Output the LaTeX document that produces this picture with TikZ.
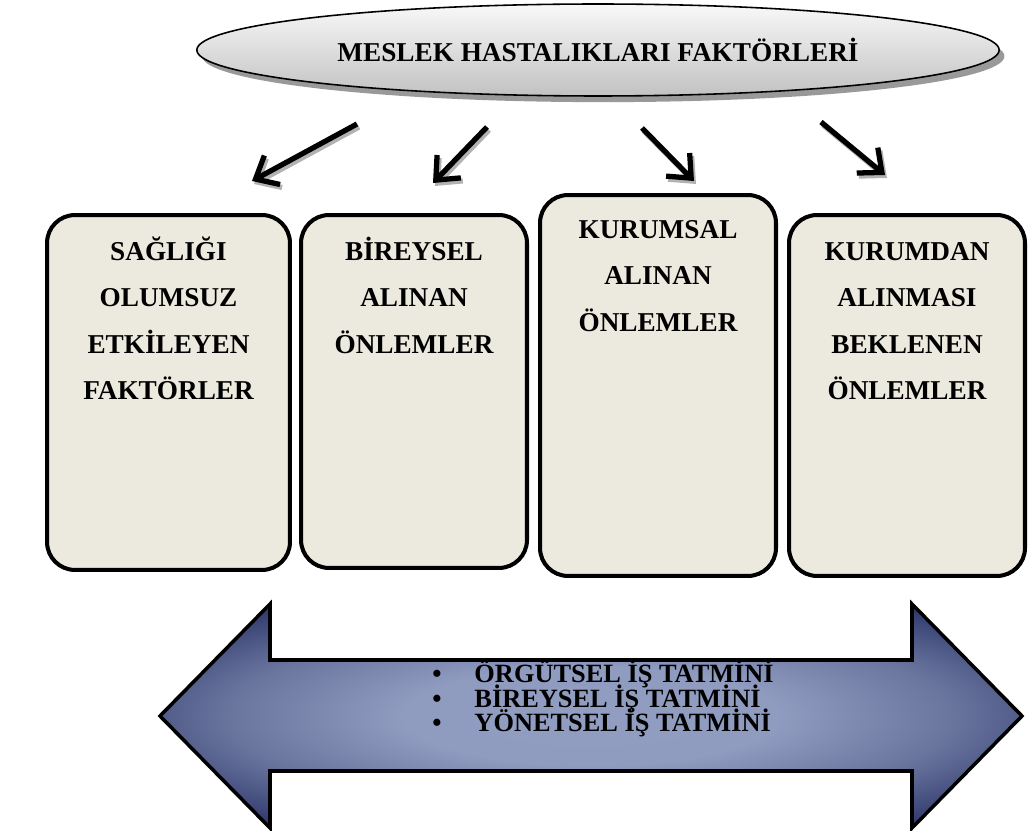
\documentclass[tikz,border=0pt]{standalone}
\usepackage{fontspec}
\setmainfont{Liberation Serif}
\usetikzlibrary{positioning,shapes,arrows.meta,shadows}

\definecolor{cardfill}{RGB}{236,233,222}
\definecolor{bandlight}{RGB}{145,157,193}
\definecolor{bandmid}{RGB}{106,117,158}
\definecolor{banddark}{RGB}{32,41,96}
\pgfdeclareradialshading{bandglow}{\pgfpoint{0bp}{0bp}}{color(0bp)=(bandlight); color(11bp)=(bandlight!94!bandmid); color(21bp)=(bandmid); color(33bp)=(banddark); color(50bp)=(banddark)}

\begin{document}
\begin{tikzpicture}[x=0.02cm, y=-0.02cm,
    title/.style={ellipse, draw, line width=0.9pt, minimum width=16.05cm, minimum height=1.84cm, inner sep=0pt, top color=gray!5, bottom color=gray!48, drop shadow={shadow xshift=3pt, shadow yshift=-3.5pt, fill=black, opacity=0.4}, font=\fontsize{15.5}{18}\selectfont\bfseries},
    card/.style={draw, line width=2.3pt, rounded corners=0.56cm, fill=cardfill},
    cardtext/.style={align=center, inner sep=0pt, font=\fontsize{15.5}{26.5}\selectfont\bfseries},
    pointer/.style={-{Straight Barb[length=3.8mm, width=6.6mm]}, line width=3pt},
    pointershade/.style={pointer, draw=gray!60},
    item/.style={anchor=base west, inner sep=0pt, font=\fontsize{15}{15}\selectfont\bfseries},
]
  \useasboundingbox (0,0) rectangle (1029,831);

  \node[title] (factors) at (598,50) {MESLEK HASTALIKLARI FAKTÖRLERİ};

  \coordinate (t1) at (357,124); \coordinate (h1) at (252,181);
  \coordinate (t2) at (487,127); \coordinate (h2) at (433,183);
  \coordinate (t3) at (642,128); \coordinate (h3) at (694,181);
  \coordinate (t4) at (821,122); \coordinate (h4) at (885,175);
  \draw[pointershade] ([shift={(2,3)}]t1) -- ([shift={(2,3)}]h1);
  \draw[pointershade] ([shift={(2,3)}]t2) -- ([shift={(2,3)}]h2);
  \draw[pointershade] ([shift={(2,3)}]t3) -- ([shift={(2,3)}]h3);
  \draw[pointershade] ([shift={(2,3)}]t4) -- ([shift={(2,3)}]h4);
  \draw[pointer] (t1) -- (h1);
  \draw[pointer] (t2) -- (h2);
  \draw[pointer] (t3) -- (h3);
  \draw[pointer] (t4) -- (h4);

  \node[card, minimum width=4.86cm, minimum height=7.10cm] (health) at (168.5,392.5) {};
  \node[card, minimum width=4.52cm, minimum height=7.06cm] (personal) at (414,391.5) {};
  \node[card, minimum width=4.72cm, minimum height=7.62cm] (corporate) at (658,385.5) {};
  \node[card, minimum width=4.72cm, minimum height=7.22cm] (expected) at (907,395.5) {};

  \node[cardtext, below=8pt of health.north] (healthtext) {\strut SAĞLIĞI\\OLUMSUZ\\ETKİLEYEN\\FAKTÖRLER};
  \node[cardtext, below=8pt of personal.north] (personaltext) {\strut BİREYSEL\\ALINAN\\ÖNLEMLER};
  \node[cardtext, below=7pt of corporate.north] (corporatetext) {\strut KURUMSAL\\ALINAN\\ÖNLEMLER};
  \node[cardtext, below=8pt of expected.north] (expectedtext) {\strut KURUMDAN\\ALINMASI\\BEKLENEN\\ÖNLEMLER};

  \path[draw, line width=2pt, shading=bandglow] (160,716) -- (270,604) -- (270,660) -- (912,660) -- (912,604) -- (1022,716) -- (912,828) -- (912,771) -- (270,771) -- (270,828) -- cycle;

  \node[item] (orgsat) at (432,683) {\makebox[24pt][l]{\textbullet}ÖRGÜTSEL İŞ TATMİNİ};
  \node[item] (indsat) at (432,707) {\makebox[24pt][l]{\textbullet}BİREYSEL İŞ TATMİNİ};
  \node[item] (mgmtsat) at (432,731) {\makebox[24pt][l]{\textbullet}YÖNETSEL İŞ TATMİNİ};
\end{tikzpicture}
\end{document}
